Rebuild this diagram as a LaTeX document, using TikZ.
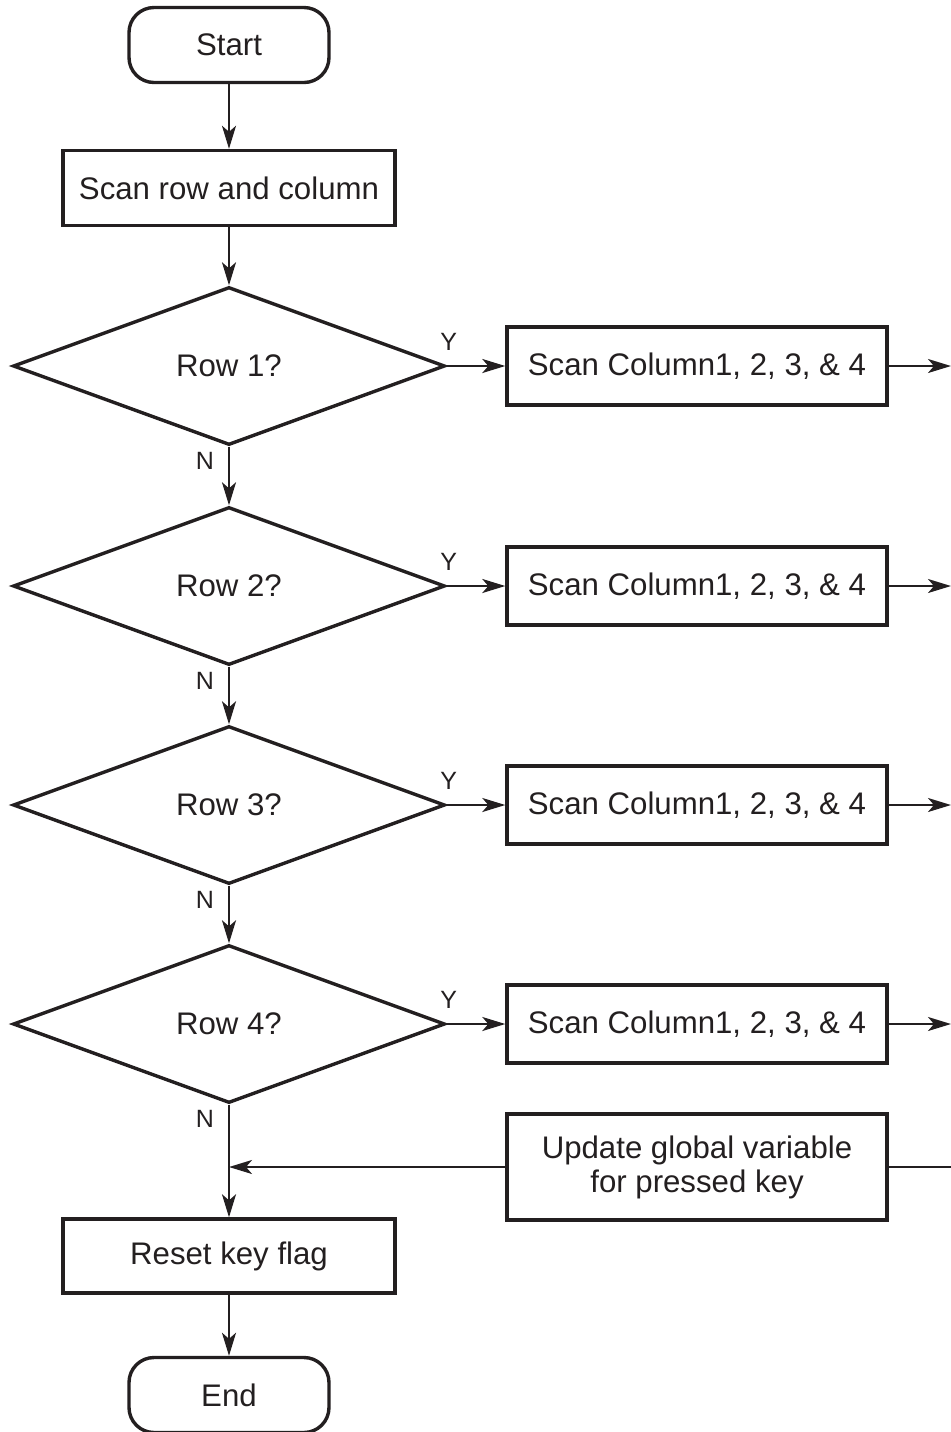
\documentclass[tikz,border=0pt]{standalone}
\usepackage{fontspec}
\setmainfont{Liberation Sans}
\usetikzlibrary{shapes.geometric,arrows.meta,positioning}
\definecolor{ink}{HTML}{231F20}

\begin{document}
\begin{tikzpicture}[x=0.5pt,y=-0.5pt,color=ink]
		\tikzset{box/.style={draw,line width=1.7pt,minimum width=166pt,minimum height=37.5pt,inner sep=2pt,align=center,font=\fontsize{15.6}{17}\selectfont}};
		\tikzset{term/.style={box,rounded corners=12.5pt,minimum width=100pt}};
		\tikzset{colbox/.style={box,minimum width=190pt,minimum height=39pt}};
		\tikzset{decision/.style={diamond,draw,line width=1.7pt,minimum width=216pt,minimum height=79pt,inner sep=0pt,font=\fontsize{15.6}{17}\selectfont}};
		\tikzset{flow/.style={line width=1.1pt,-{Stealth[length=11.5pt,width=7pt,inset=3pt]}}};
		\tikzset{yn/.style={font=\fontsize{12.5}{14}\selectfont,inner sep=0pt}};
		
		\useasboundingbox (0,0) rectangle (951,1432);
		
		\node (start) at (229,45) [term]{Start};
		\node (scan) at (229,188) [box]{Scan row and column};
		\draw [flow] (start) -- (scan);
		\foreach \i/\y in {1/366,2/586,3/805,4/1024}{
			\node (row\i) at (229,\y) [decision]{Row \i?};
			\node (col\i) at (697,\y) [colbox]{Scan Column1, 2, 3, \& 4};
			\coordinate (out\i) at (951,\y);
			\draw [flow] (row\i.east) -- (col\i.west) node [yn,at start,anchor=south,xshift=1pt,yshift=7pt]{Y};
			\draw [flow] (col\i.east) -- (out\i);
		}
		\draw [flow] (scan) -- (row1.north);
		\foreach \i/\j in {1/2,2/3,3/4}
		\draw [flow] (row\i.south) -- (row\j.north) node [yn,at start,anchor=north east,xshift=-7pt,yshift=-2pt]{N};
		
		\node (upd) at (697,1167) [colbox,minimum height=53pt]{Update global variable\\for pressed key};
		\node (reset) at (229,1256) [box,minimum height=37pt]{Reset key flag};
		\node (end) at (229,1395) [term]{End};
		\coordinate (join) at (reset.north |- upd.west);
		\coordinate (outu) at (951,1167);
		
		\draw [flow] (row4.south) -- (reset.north) node [yn,at start,anchor=north east,xshift=-7pt,yshift=-2pt]{N};
		\draw [flow] (upd.west) -- (join);
		\draw [line width=1.1pt] (upd.east) -- (outu);
		\draw [flow] (reset) -- (end);
\end{tikzpicture}
\end{document}
